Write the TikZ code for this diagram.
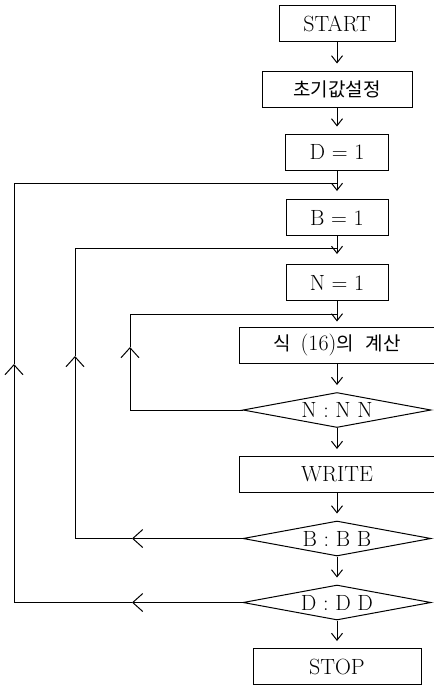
\documentclass[tikz,border=0pt]{standalone}
\usepackage{fontspec}
\newfontfamily\cjk{Noto Sans CJK KR}
\usetikzlibrary{arrows.meta,shapes.geometric}
\newcommand\kor[1]{{\cjk\fontsize{19}{23}\selectfont #1}}
\begin{document}
\begin{tikzpicture}[x=1pt,y=-1pt,
  line width=1pt,
  every node/.style={font=\fontsize{22}{26}\selectfont},
  procbox/.style={draw, rectangle, inner sep=0pt, minimum height=36pt},
  testbox/.style={draw, diamond, aspect=5, inner sep=0pt,
                  minimum width=188pt, minimum height=35pt},
  flow/.style={-{Straight Barb[length=7pt,width=11pt]}},
  back/.style={-{Straight Barb[length=10pt,width=18pt]}}]
\useasboundingbox (0,0) rectangle (434,686);

% main column
\node[procbox, minimum width=116pt] (start) at (337,23.5) {START};
\node[procbox, minimum width=150pt] (init)  at (337,89)   {\kor{초기값설정}};
\node[procbox, minimum width=103pt] (dset)  at (337,152)  {D = 1};
\node[procbox, minimum width=102pt] (bset)  at (337,217.5){B = 1};
\node[procbox, minimum width=102pt] (nset)  at (337,282.5){N = 1};
\node[procbox, minimum width=196pt] (calc)  at (337,345)
  {\kor{식}\hspace{10pt}(16)\kor{의}\hspace{12pt}\kor{계산}};
\node[testbox] (ntest) at (337,410)   {N : N N};
\node[procbox, minimum width=196pt] (write) at (337,474.5) {WRITE};
\node[testbox] (btest) at (337,538.5) {B : B B};
\node[testbox] (dtest) at (337,602.5) {D : D D};
\node[procbox, minimum width=168pt] (stop)  at (337,666.5) {STOP};

% loop entry points on the main column
\coordinate (dj) at (337,183);
\coordinate (bj) at (337,248);
\coordinate (nj) at (337,314);

% downward flow
\draw[flow, shorten >=7pt] (start) -- (init);
\draw[flow, shorten >=7pt] (init)  -- (dset);
\draw[flow, shorten >=8pt] (dset)  -- (bset);
\draw[flow, shorten >=10pt](bset)  -- (nset);
\draw[flow, shorten >=5pt] (nset)  -- (calc);
\draw[flow, shorten >=7pt] (calc)  -- (ntest);
\draw[flow, shorten >=7pt] (ntest) -- (write);
\draw[flow, shorten >=7pt] (write) -- (btest);
\draw[flow, shorten >=7pt] (btest) -- (dtest);
\draw[flow, shorten >=7pt] (dtest) -- (stop);

% inner loop (N)
\coordinate (nleft) at (130,410);
\coordinate (nup)   at (130,347);
\draw (ntest.west) -- (nleft);
\draw[back] (nleft) -- (nup);
\draw (nup) |- (nj);

% middle loop (B)
\coordinate (bback) at (132,538.5);
\coordinate (bleft) at (75,538.5);
\coordinate (bup)   at (75,356);
\draw[back] (btest.west) -- (bback);
\draw (bback) -- (bleft);
\draw[back] (bleft) -- (bup);
\draw (bup) |- (bj);

% outer loop (D)
\coordinate (dback) at (132,602.5);
\coordinate (dleft) at (14,602.5);
\coordinate (dup)   at (14,364);
\draw[back] (dtest.west) -- (dback);
\draw (dback) -- (dleft);
\draw[back] (dleft) -- (dup);
\draw (dup) |- (dj);
\end{tikzpicture}
\end{document}
